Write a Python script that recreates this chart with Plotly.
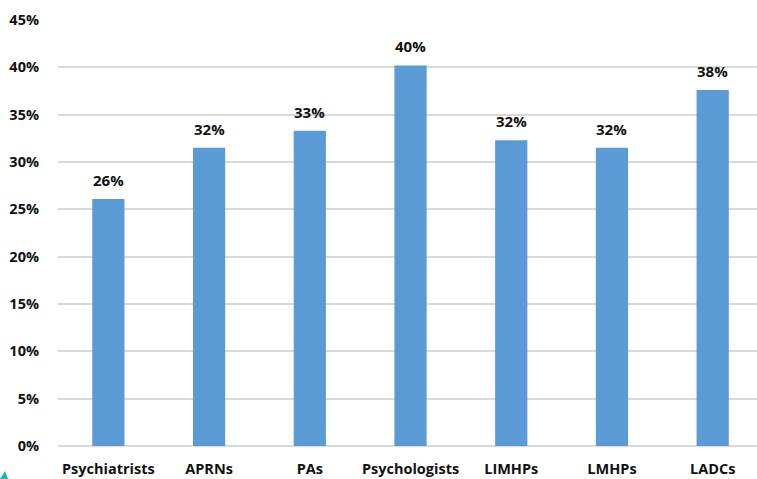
import plotly.graph_objects as go

categories = ["Psychiatrists", "APRNs", "PAs", "Psychologists", "LIMHPs", "LMHPs", "LADCs"]
values = [26.1, 31.5, 33.3, 40.2, 32.3, 31.5, 37.6]
labels = ["26%", "32%", "33%", "40%", "32%", "32%", "38%"]
tick_vals = [0, 5, 10, 15, 20, 25, 30, 35, 40, 45]
tick_text = ["0%", "5%", "10%", "15%", "20%", "25%", "30%", "35%", "40%", "45%"]

W, H = 757, 479
left, right, top, bottom = 58, 0, 20, 33
pw, ph = W - left - right, H - top - bottom


def px(x, y):
    return (x - left) / pw, (H - bottom - y) / ph


fig = go.Figure(go.Bar(
    x=categories, y=values, width=0.32,
    marker=dict(color="#5B9BD5", line=dict(width=0)),
    hoverinfo="skip",
))

for c, v, t in zip(categories, values, labels):
    fig.add_annotation(x=c, y=v, text=t, showarrow=False, yanchor="bottom",
                       yshift=7,
                       font=dict(family="Open Sans", size=15, color="#111111", weight="bold"))

p1, p2, p3 = px(0, 479), px(5, 471), px(8, 479)
fig.update_layout(
    width=W, height=H,
    margin=dict(l=left, r=right, t=top, b=bottom, pad=0, autoexpand=False),
    paper_bgcolor="white", plot_bgcolor="white",
    showlegend=False,
    font=dict(family="Open Sans", size=14, color="#111111"),
    xaxis=dict(range=[-0.5, 6.44], showgrid=False, zeroline=False, showline=False,
               automargin=False, ticks="", ticklabelstandoff=12,
               tickfont=dict(family="Open Sans", size=14.5, weight="bold", color="#111111")),
    yaxis=dict(range=[0, 45], tickvals=tick_vals, ticktext=tick_text,
               showgrid=True, gridcolor="#D9D9D9", gridwidth=1.5,
               zeroline=True, zerolinecolor="#D9D9D9", zerolinewidth=1.5,
               automargin=False,
               showline=False, ticks="", ticklabelstandoff=18,
               tickfont=dict(family="Open Sans", size=14.5, weight="bold", color="#111111")),
    shapes=[dict(type="path", xref="paper", yref="paper",
                 path=f"M {p1[0]} {p1[1]} L {p2[0]} {p2[1]} L {p3[0]} {p3[1]} Z",
                 fillcolor="#1BB5B8", line=dict(width=0))],
)

fig.write_html("out.html", config={"displayModeBar": False},
               post_script="document.body.style.margin='0';document.body.style.overflow='hidden';")
